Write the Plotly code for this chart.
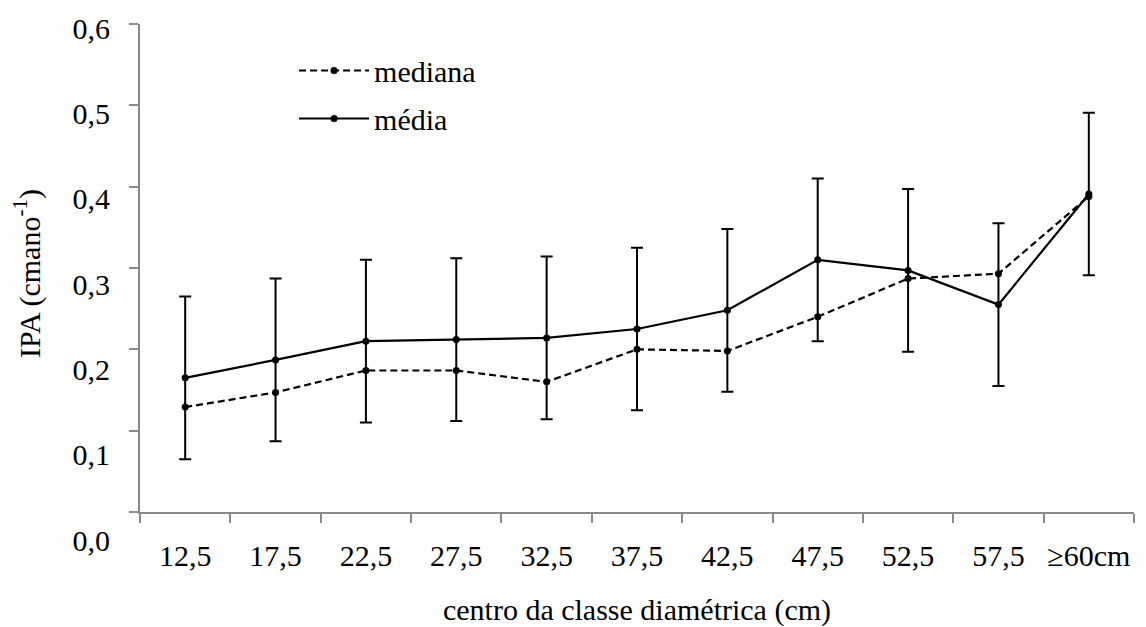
import plotly.graph_objects as go

categorias = ["12,5", "17,5", "22,5", "27,5", "32,5", "37,5", "42,5", "47,5", "52,5", "57,5", "≥60cm"]
mediana = [0.129, 0.147, 0.174, 0.174, 0.160, 0.200, 0.198, 0.240, 0.287, 0.293, 0.388]
media = [0.165, 0.187, 0.210, 0.212, 0.214, 0.225, 0.248, 0.310, 0.297, 0.255, 0.391]
erro_media = [0.1, 0.1, 0.1, 0.1, 0.1, 0.1, 0.1, 0.1, 0.1, 0.1, 0.1]
y_ticks = [0.0, 0.1, 0.2, 0.3, 0.4, 0.5, 0.6]

FONT = "Liberation Serif"
AXIS_GRAY = "#898989"
CLEAR = "rgba(0,0,0,0)"

fig = go.Figure()

fig.add_trace(go.Scatter(
    x=categorias, y=mediana, name="mediana", mode="lines+markers",
    line=dict(color="black", width=2.2, dash="7px,4px"),
    marker=dict(color="black", size=7),
    legendgroup="a",
))
fig.add_trace(go.Scatter(
    x=categorias, y=media, name="média", mode="lines+markers",
    line=dict(color="black", width=2.2),
    marker=dict(color="black", size=7),
    error_y=dict(type="data", array=erro_media, visible=True,
                 color="black", thickness=2, width=6),
    legendgroup="b",
))
# invisible carrier trace for the label axes
fig.add_trace(go.Scatter(
    x=categorias, y=media, xaxis="x2", yaxis="y2", mode="markers",
    marker=dict(opacity=0), hoverinfo="skip", showlegend=False,
))

H = 525.0
def dom(px):
    return 1 - (px - 20) / H

fig.update_layout(
    width=1146, height=627,
    margin=dict(l=140, r=12, t=20, b=82),
    paper_bgcolor="white", plot_bgcolor=CLEAR,
    separators=",.",
    font=dict(family=FONT, size=30, color="black"),
    showlegend=True,
    legend=dict(x=0.155, y=0.9533, xanchor="left", yanchor="top",
                bgcolor=CLEAR, font=dict(family=FONT, size=30),
                itemwidth=70, tracegroupgap=6, traceorder="grouped"),
    xaxis=dict(
        type="category", range=[-0.5, 10.5], anchor="y",
        categoryorder="array", categoryarray=categorias,
        showline=True, linecolor=AXIS_GRAY, linewidth=1.5,
        ticks="outside", tickson="boundaries", ticklen=9,
        tickcolor=AXIS_GRAY, tickwidth=1.5,
        showgrid=False, zeroline=False, showticklabels=False,
        automargin=False,
    ),
    xaxis2=dict(
        type="category", range=[-0.5, 10.5], anchor="y", overlaying="x",
        categoryorder="array", categoryarray=categorias, side="bottom",
        showline=False, ticks="outside", ticklen=17, tickcolor=CLEAR,
        showgrid=False, zeroline=False, tickangle=0,
        tickfont=dict(family=FONT, size=30),
        automargin=False,
        title=dict(text="centro da classe diamétrica (cm)",
                   font=dict(family=FONT, size=30), standoff=36),
    ),
    yaxis=dict(
        domain=[dom(512), dom(24)], range=[0, 0.6],
        tickvals=y_ticks, showticklabels=False,
        showline=True, linecolor=AXIS_GRAY, linewidth=1.5,
        ticks="outside", ticklen=9, tickcolor=AXIS_GRAY, tickwidth=1.5,
        showgrid=False, zeroline=False, automargin=False,
    ),
    yaxis2=dict(
        domain=[dom(540), dom(28)], range=[0, 0.6],
        anchor="free", position=0, side="left",
        tickvals=y_ticks, tickformat=".1f",
        showline=False, ticks="outside", ticklen=24, tickcolor=CLEAR,
        showgrid=False, zeroline=False, automargin=False,
        tickfont=dict(family=FONT, size=30),
    ),
    annotations=[dict(
        text="IPA (cmano<sup>-1</sup>)", textangle=-90,
        xref="paper", yref="paper", x=(27 - 140) / 994, y=dom(274),
        xanchor="center", yanchor="middle", showarrow=False,
        font=dict(size=30, family=FONT, color="black"),
    )],
)

fig.write_html("out.html")
